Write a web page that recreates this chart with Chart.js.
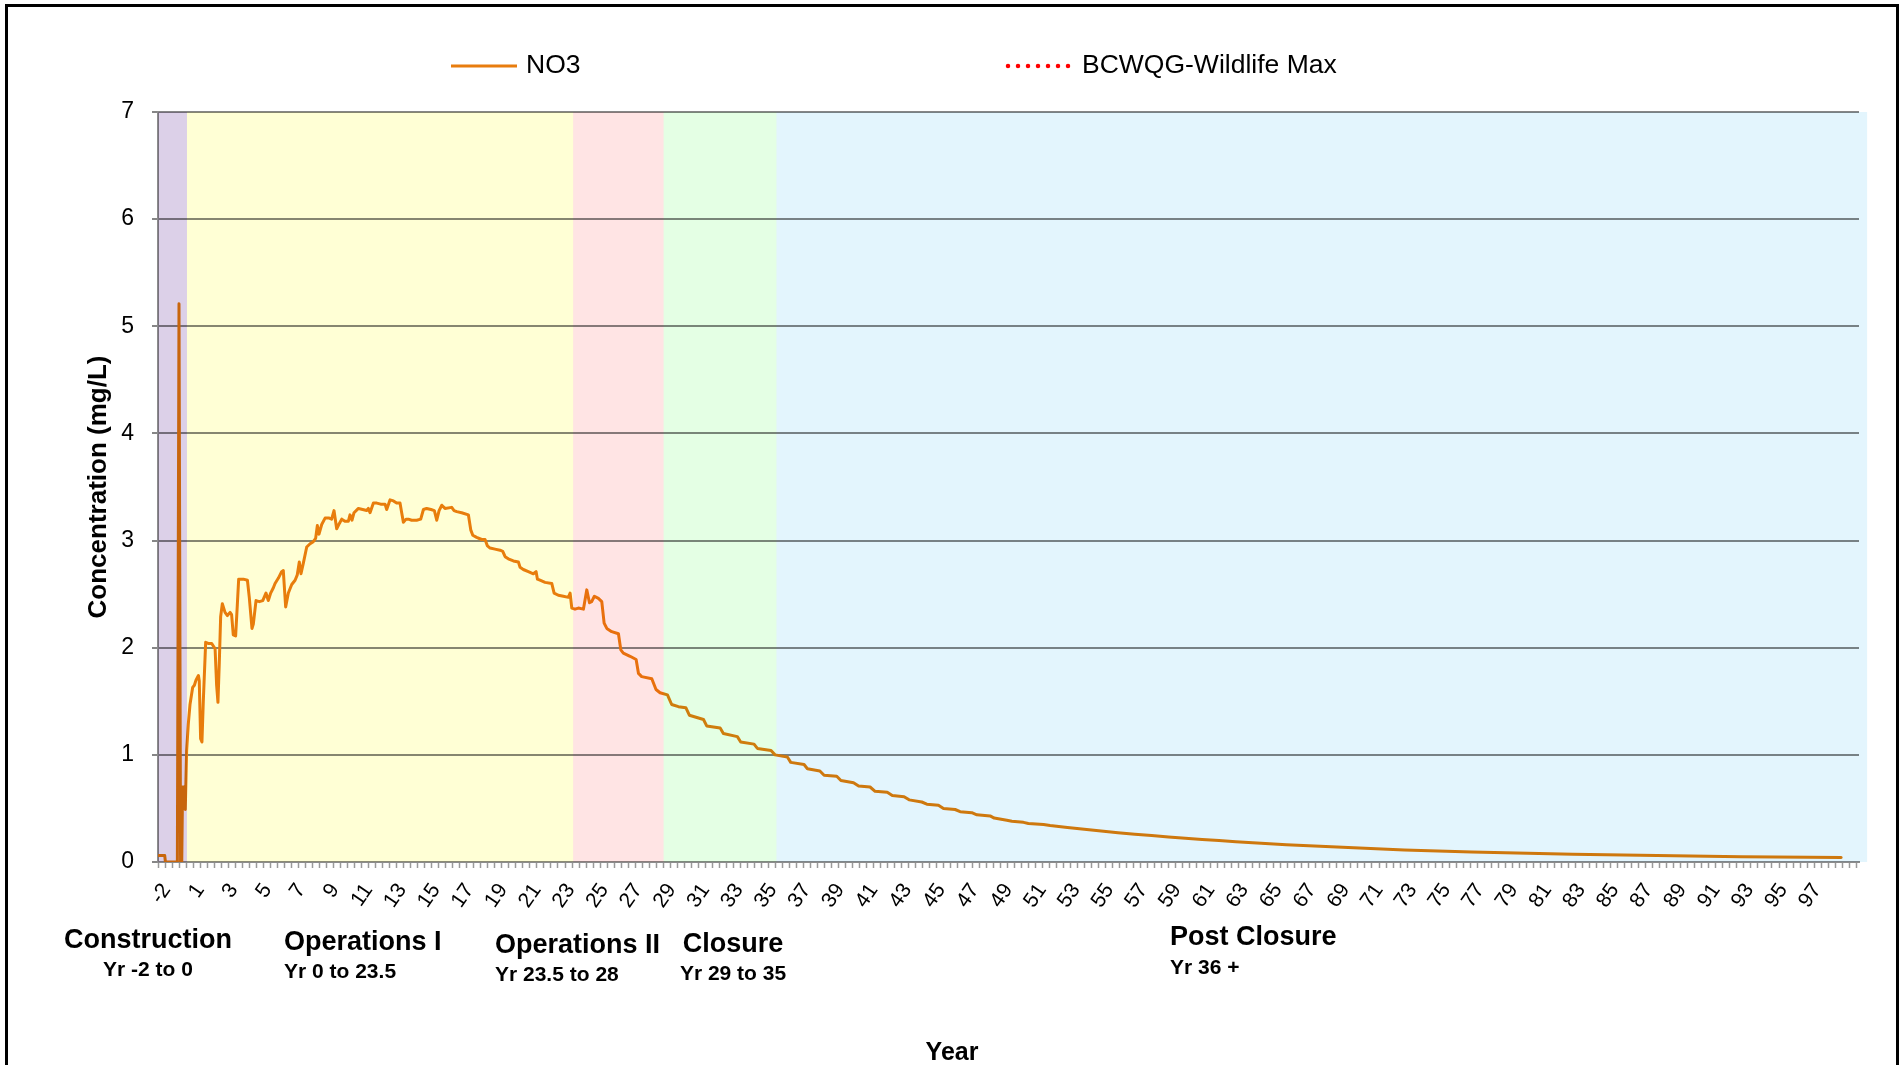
<!DOCTYPE html>
<html>
<head>
<meta charset="utf-8">
<script src="https://cdn.jsdelivr.net/npm/chart.js@4.4.1/dist/chart.umd.min.js"></script>
<style>
  html, body { margin: 0; padding: 0; background: #fff; overflow: hidden; }
  #wrap { position: relative; width: 1902px; height: 1065px; }
  #c { position: absolute; left: 0; top: 0; }
  #frame { position: absolute; left: 5px; top: 4px; width: 1894px; height: 1200px; box-sizing: border-box; border: 3px solid #000; pointer-events: none; }
</style>
</head>
<body>
<div id="wrap">
  <canvas id="c" width="1902" height="1065"></canvas>
  <div id="frame"></div>
</div>
<script>
// ---------------- DATA ----------------
// Years (x) and NO3 concentration (mg/L)
const years = [
  -1.95, -1.60, -1.56, -0.85, -0.753, -0.66, -0.59, -0.54, -0.44, -0.38,
  -0.30, -0.20, -0.10, 0.06, 0.16, 0.26, 0.40, 0.45, 0.53, 0.61,
  0.69, 0.83, 0.99, 1.19, 1.39, 1.48, 1.56, 1.64, 1.72, 1.82,
  1.98, 2.12, 2.28, 2.37, 2.47, 2.61, 2.71, 2.79, 3.07, 3.31,
  3.42, 3.58, 3.66, 3.82, 4.02, 4.22, 4.41, 4.55, 4.69, 4.85,
  4.95, 5.15, 5.34, 5.44, 5.58, 5.74, 5.94, 6.14, 6.27, 6.39,
  6.49, 6.63, 6.83, 7.03, 7.22, 7.36, 7.46, 7.56, 7.72, 7.92,
  8.17, 8.31, 8.45, 8.61, 8.77, 8.91, 9.10, 9.30, 9.40, 9.52,
  9.64, 9.90, 10.15, 10.39, 10.49, 10.59, 10.79, 10.99, 11.22, 11.48,
  11.58, 11.78, 11.98, 12.17, 12.37, 12.47, 12.57, 12.73, 12.87, 13.06,
  13.36, 13.60, 13.76, 13.95, 14.21, 14.41, 14.55, 14.69, 14.85, 15.04,
  15.44, 15.58, 15.74, 16.03, 16.43, 16.57, 16.69, 16.92, 17.22, 17.42,
  17.56, 17.72, 18.01, 18.31, 18.47, 18.61, 18.80, 19.10, 19.40, 19.50,
  19.69, 19.99, 20.29, 20.45, 20.53, 20.68, 20.98, 21.38, 21.52, 21.77,
  22.07, 22.37, 22.47, 22.57, 22.76, 22.96, 23.26, 23.46, 23.62, 23.75,
  23.91, 24.15, 24.35, 24.49, 24.65, 24.94, 25.34, 25.48, 25.63, 26.03,
  26.39, 26.53, 26.72, 27.32, 27.57, 27.81, 28.25, 28.50, 28.90, 29.34,
  29.55, 30.39, 30.58, 31.38, 31.57, 32.40, 32.60, 33.39, 33.59, 34.40,
  34.64, 35.37, 35.57, 36.36, 36.56, 37.30, 37.55, 38.30, 38.55, 39.30,
  39.60, 40.28, 40.58, 41.30, 41.60, 42.30, 42.60, 43.35, 43.65, 44.34,
  44.64, 45.33, 45.63, 46.32, 46.62, 47.41, 47.65, 48.40, 48.70, 49.39,
  49.68, 50.58, 50.97, 52, 53, 54, 55, 56, 57, 58,
  59, 60, 61, 62, 63, 64, 65, 66, 67, 68,
  69, 70, 71, 72, 74, 76, 78, 80, 82, 84,
  86, 88, 90, 92, 94, 96, 97.94
];
const no3 = [
  0.06, 0.06, 0.00, 0.00, 5.21, 0.00, 0.00, 0.70, 0.70, 0.49,
  1.04, 1.29, 1.47, 1.63, 1.65, 1.70, 1.74, 1.69, 1.15, 1.12,
  1.50, 2.05, 2.04, 2.04, 1.99, 1.65, 1.49, 1.86, 2.29, 2.41,
  2.33, 2.30, 2.33, 2.31, 2.12, 2.11, 2.40, 2.64, 2.64, 2.63,
  2.47, 2.18, 2.22, 2.44, 2.43, 2.44, 2.51, 2.44, 2.51, 2.56,
  2.60, 2.65, 2.71, 2.72, 2.38, 2.51, 2.59, 2.63, 2.68, 2.80,
  2.69, 2.79, 2.94, 2.97, 2.99, 3.02, 3.14, 3.06, 3.15, 3.21,
  3.21, 3.20, 3.28, 3.11, 3.16, 3.20, 3.18, 3.18, 3.24, 3.19,
  3.26, 3.30, 3.29, 3.28, 3.30, 3.26, 3.35, 3.35, 3.34, 3.34,
  3.29, 3.38, 3.37, 3.35, 3.35, 3.26, 3.17, 3.20, 3.20, 3.19,
  3.19, 3.20, 3.29, 3.30, 3.29, 3.28, 3.19, 3.28, 3.33, 3.30,
  3.31, 3.28, 3.27, 3.26, 3.24, 3.10, 3.05, 3.03, 3.01, 3.01,
  2.95, 2.93, 2.92, 2.91, 2.90, 2.85, 2.83, 2.81, 2.80, 2.75,
  2.73, 2.71, 2.69, 2.71, 2.64, 2.63, 2.61, 2.60, 2.51, 2.49,
  2.48, 2.47, 2.51, 2.37, 2.36, 2.37, 2.36, 2.54, 2.42, 2.43,
  2.48, 2.46, 2.43, 2.23, 2.18, 2.15, 2.13, 1.98, 1.95, 1.92,
  1.89, 1.76, 1.73, 1.71, 1.61, 1.58, 1.56, 1.47, 1.45, 1.44,
  1.37, 1.33, 1.27, 1.25, 1.20, 1.17, 1.12, 1.10, 1.06, 1.04,
  1.00, 0.98, 0.93, 0.91, 0.87, 0.85, 0.81, 0.80, 0.76, 0.74,
  0.71, 0.70, 0.66, 0.65, 0.62, 0.61, 0.58, 0.56, 0.54, 0.53,
  0.50, 0.49, 0.47, 0.46, 0.44, 0.43, 0.41, 0.39, 0.38, 0.37,
  0.36, 0.35, 0.34, 0.322, 0.305, 0.289, 0.274, 0.26, 0.247, 0.234,
  0.222, 0.211, 0.20, 0.19, 0.18, 0.171, 0.162, 0.154, 0.146, 0.139,
  0.132, 0.125, 0.119, 0.113, 0.103, 0.094, 0.086, 0.079, 0.073, 0.067,
  0.062, 0.058, 0.054, 0.050, 0.047, 0.044, 0.042
];
// BC water quality guideline (wildlife, maximum): no point falls inside the plotted range
const bcwqgWildlifeMax = [];

// Project phase bands (years)
const phaseNames  = ['Construction', 'Operations I', 'Operations II', 'Closure', 'Post Closure'];
const phaseRanges = ['Yr -2 to 0', 'Yr 0 to 23.5', 'Yr 23.5 to 28', 'Yr 29 to 35', 'Yr 36 +'];
const bandStart   = [-2, -0.28, 22.65, 28.02, 34.72];
const bandEnd     = [-0.28, 22.65, 28.02, 34.72, 99.48];

// Axis tick labels and titles
const xTickLabels = ['-2','1','3','5','7','9','11','13','15','17','19','21','23','25','27','29','31','33','35','37','39',
  '41','43','45','47','49','51','53','55','57','59','61','63','65','67','69','71','73','75','77','79',
  '81','83','85','87','89','91','93','95','97'];
const yTickValues = [0, 1, 2, 3, 4, 5, 6, 7];
const xAxisTitle = 'Year';
const yAxisTitle = 'Concentration (mg/L)';

// ---------------- STYLE ----------------
const FONT = '"Liberation Sans", Arial, Helvetica, sans-serif';
const lineColor = '#E87D0E';
const bandColors = ['#DCD0E8', '#FFFFD5', '#FFE4E4', '#E4FFE4', '#E3F5FD'];
const gridGray = '#868686';
const phaseLayout = [
  { x: 148,  align: 'center', y1: 941, y2: 970 },
  { x: 284,  align: 'left',   y1: 943, y2: 972 },
  { x: 495,  align: 'left',   y1: 946, y2: 975 },
  { x: 733,  align: 'center', y1: 945, y2: 974 },
  { x: 1170, align: 'left',   y1: 938, y2: 968 }
];

Chart.defaults.font.family = FONT;
Chart.defaults.color = '#000';

// x ticks: minor tick marks every 5 months, labels at category (year) centres
const xMin = -2, xMax = 99;
const xTicks = [];
for (let k = 0; xMin + k * 5 / 12 <= xMax + 1e-9; k++) {
  xTicks.push({ value: xMin + k * 5 / 12, lbl: '', mark: true });
}
xTickLabels.forEach(L => {
  const n = parseFloat(L);
  const pos = n < 0 ? n + 0.5 : n - 0.5;
  xTicks.push({ value: pos, lbl: L, mark: false });
});
xTicks.sort((a, b) => a.value - b.value);

const whiteBg = {
  id: 'whiteBg',
  beforeDraw(chart) {
    const c = chart.ctx;
    c.save();
    c.fillStyle = '#fff';
    c.fillRect(0, 0, chart.width, chart.height);
    c.restore();
  }
};

const bandPlugin = {
  id: 'bands',
  afterDatasetsDraw(chart) {
    const c = chart.ctx, xs = chart.scales.x, ys = chart.scales.y;
    const top = ys.getPixelForValue(7), bottom = ys.getPixelForValue(0);
    c.save();
    c.globalCompositeOperation = 'multiply';
    for (let i = 0; i < bandStart.length; i++) {
      const x0 = xs.getPixelForValue(bandStart[i]);
      const x1 = xs.getPixelForValue(bandEnd[i]);
      c.fillStyle = bandColors[i];
      c.fillRect(x0, top, x1 - x0, bottom - top);
    }
    c.restore();
  }
};

const legendPlugin = {
  id: 'customLegend',
  afterDraw(chart) {
    const c = chart.ctx;
    const ds = chart.data.datasets;
    const y = 66;
    c.save();
    // NO3
    c.strokeStyle = ds[0].borderColor;
    c.lineWidth = 3;
    c.lineCap = 'butt';
    c.beginPath(); c.moveTo(451, y); c.lineTo(517, y); c.stroke();
    c.fillStyle = '#000';
    c.font = '26.5px ' + FONT;
    c.textBaseline = 'middle';
    c.textAlign = 'left';
    c.fillText(ds[0].label, 526, y);
    // BCWQG
    c.strokeStyle = ds[1].borderColor;
    c.lineWidth = 4.5;
    c.lineCap = 'round';
    c.setLineDash(ds[1].borderDash);
    c.beginPath(); c.moveTo(1008, y); c.lineTo(1070, y); c.stroke();
    c.setLineDash([]);
    c.fillText(ds[1].label, 1082, y);
    c.restore();
  }
};

const textPlugin = {
  id: 'phaseLabels',
  afterDraw(chart) {
    const c = chart.ctx;
    c.save();
    c.fillStyle = '#000';
    c.textBaseline = 'middle';
    phaseNames.forEach((name, i) => {
      const p = phaseLayout[i];
      c.textAlign = p.align;
      c.font = 'bold 27px ' + FONT;
      c.fillText(name, p.x, p.y1);
      c.font = 'bold 21px ' + FONT;
      c.fillText(phaseRanges[i], p.x, p.y2);
    });
    // x-axis title, centred on the whole chart frame
    c.textAlign = 'center';
    c.font = 'bold 25px ' + FONT;
    c.fillText(xAxisTitle, 952, 1053);
    c.restore();
  }
};

new Chart(document.getElementById('c'), {
  type: 'line',
  data: {
    datasets: [
      {
        label: 'NO3',
        data: years.map((t, i) => ({ x: t, y: no3[i] })),
        borderColor: lineColor,
        borderWidth: 3,
        pointRadius: 0,
        tension: 0,
        borderJoinStyle: 'round',
        borderCapStyle: 'round',
        fill: false
      },
      {
        label: 'BCWQG-Wildlife Max',
        data: bcwqgWildlifeMax,
        borderColor: '#FF0000',
        borderDash: [0, 10],
        borderWidth: 4.5,
        borderCapStyle: 'round',
        pointRadius: 0,
        fill: false
      }
    ]
  },
  options: {
    responsive: false,
    animation: false,
    devicePixelRatio: 1,
    layout: { padding: { left: 0, top: 112, right: 43, bottom: 0 } },
    scales: {
      x: {
        type: 'linear',
        min: xMin,
        max: xMax,
        afterBuildTicks: s => { s.ticks = xTicks.map(t => ({ value: t.value, lbl: t.lbl, mark: t.mark })); },
        afterFit: s => { s.height = 203; },
        ticks: {
          autoSkip: false,
          minRotation: 55,
          maxRotation: 55,
          padding: 11,
          font: { size: 21 },
          color: '#000',
          callback: (v, i, ticks) => ticks[i].lbl
        },
        grid: {
          drawOnChartArea: false,
          drawTicks: true,
          tickLength: 6,
          tickWidth: 1.5,
          tickColor: ctx => (ctx.tick && ctx.tick.mark) ? '#9a9a9a' : 'rgba(0,0,0,0)'
        },
        border: { display: true, color: '#8c8c8c', width: 2 }
      },
      y: {
        min: 0,
        max: 7,
        afterBuildTicks: s => { s.ticks = yTickValues.map(v => ({ value: v })); },
        afterFit: s => { s.width = 158; },
        ticks: { padding: 18, font: { size: 23 }, color: '#000' },
        grid: { color: gridGray, lineWidth: 2, tickLength: 6, tickColor: gridGray, tickWidth: 2 },
        border: { display: true, color: '#8c8c8c', width: 2 },
        title: {
          display: true,
          text: yAxisTitle,
          font: { size: 26, weight: 'bold' },
          padding: { top: 83, bottom: 0 },
          color: '#000'
        }
      }
    },
    plugins: {
      legend: { display: false },
      tooltip: { enabled: false },
      title: { display: false }
    }
  },
  plugins: [whiteBg, bandPlugin, legendPlugin, textPlugin]
});
</script>
</body>
</html>
